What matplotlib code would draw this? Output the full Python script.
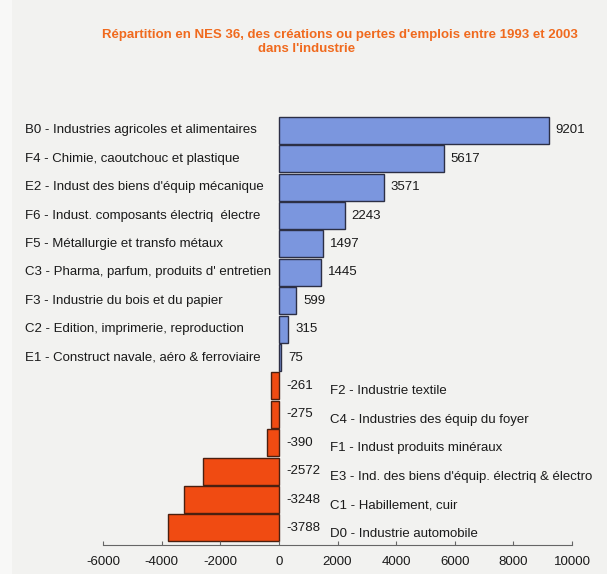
import matplotlib
matplotlib.use("Agg")
import matplotlib.pyplot as plt
import matplotlib.transforms as mtransforms
from matplotlib.patches import Rectangle

plt.rcParams['font.family'] = ['Liberation Sans', 'DejaVu Sans']

# Job gains / losses by NES 36 sector, 1993-2003 (top to bottom)
gain_labels = [
    "B0 - Industries agricoles et alimentaires",
    "F4 - Chimie, caoutchouc et plastique",
    "E2 - Indust des biens d'équip mécanique",
    "F6 - Indust. composants électriq  électre",
    "F5 - Métallurgie et transfo métaux",
    "C3 - Pharma, parfum, produits d' entretien",
    "F3 - Industrie du bois et du papier",
    "C2 - Edition, imprimerie, reproduction",
    "E1 - Construct navale, aéro & ferroviaire",
]
gain_values = [9201, 5617, 3571, 2243, 1497, 1445, 599, 315, 75]

loss_labels = [
    "F2 - Industrie textile",
    "C4 - Industries des équip du foyer",
    "F1 - Indust produits minéraux",
    "E3 - Ind. des biens d'équip. électriq & électro",
    "C1 - Habillement, cuir",
    "D0 - Industrie automobile",
]
loss_values = [-261, -275, -390, -2572, -3248, -3788]

xticks = [-6000, -4000, -2000, 0, 2000, 4000, 6000, 8000, 10000]

blue = "#7b96de"
orange = "#f04b12"
text_col = "#1a1a1a"
bg = "#f2f2f0"

fig = plt.figure(figsize=(6.07, 5.74), dpi=100, facecolor=bg)
fig.patches.append(Rectangle((0, 0), 12 / 607, 1, transform=fig.transFigure,
                             facecolor="#f8f8f7", edgecolor="none", zorder=0))
ax = fig.add_axes([103 / 607, 1 - 545 / 574, 469 / 607, 0.7497])
ax.set_facecolor(bg)

labels = gain_labels + loss_labels
values = gain_values + loss_values
n = len(values)
ypos = [n - 1 - i for i in range(n)]
colors = [blue] * len(gain_values) + [orange] * len(loss_values)
edges = ["#2c2f45"] * len(gain_values) + ["#4a2010"] * len(loss_values)

ax.barh(ypos, values, height=0.95, color=colors, edgecolor=edges, linewidth=1.0)

# value labels
for y, v, lab in zip(ypos, values, labels):
    if v > 0:
        ax.annotate(str(v), (v, y), xytext=(5, 0), textcoords="offset points",
                    ha="left", va="center", fontsize=9.5, color=text_col)
    else:
        ax.text(240, y, str(v), ha="left", va="center", fontsize=9.5, color=text_col)
        ax.annotate(lab, (1750, y), xytext=(0, -4), textcoords="offset points",
                    ha="left", va="center", fontsize=9.5, color=text_col)

# category names for the gains, aligned on the left margin
trans = mtransforms.blended_transform_factory(fig.transFigure, ax.transData)
for y, v, lab in zip(ypos, values, labels):
    if v > 0:
        ax.text(25 / 607, y, lab, transform=trans, ha="left", va="center",
                fontsize=9.5, color=text_col)

ax.set_xlim(-6000, 10000)
ax.set_ylim(-0.6, 14.55)
ax.set_yticks([])
ax.set_xticks(xticks)
ax.set_xticklabels([str(t) for t in xticks], fontsize=9.5, color=text_col)
ax.tick_params(axis="x", direction="in", length=3, color="#666666", pad=8)
for side in ["top", "right", "left"]:
    ax.spines[side].set_visible(False)
ax.spines["bottom"].set_color("#666666")
ax.spines["bottom"].set_linewidth(0.8)

title_col = "#f06a1e"
fig.text(340 / 607, 1 - 35 / 574,
         "Répartition en NES 36, des créations ou pertes d'emplois entre 1993 et 2003",
         ha="center", va="center", fontsize=9.5, fontweight="bold", color=title_col)
fig.text(307 / 607, 1 - 49 / 574, "dans l'industrie",
         ha="center", va="center", fontsize=9.5, fontweight="bold", color=title_col)

fig.savefig("out.png", dpi=100, facecolor=bg)
